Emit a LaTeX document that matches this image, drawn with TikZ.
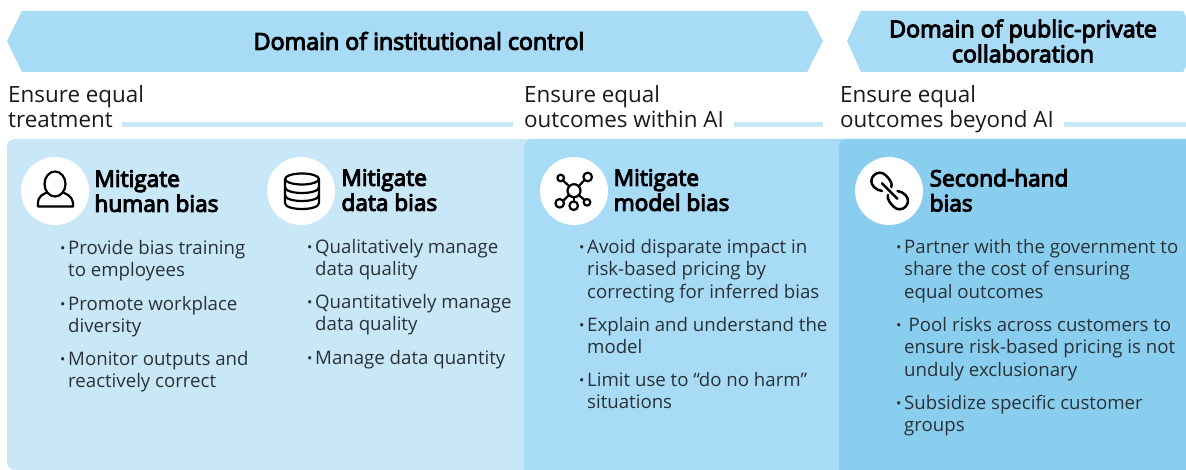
\documentclass[tikz,border=0pt]{standalone}
\usepackage{fontspec}
\setmainfont{Open Sans}
\newfontfamily\headfont[FakeBold=4.5]{Open Sans}
\usetikzlibrary{arrows}
\definecolor{palesky}{HTML}{C9E8F7}
\definecolor{midsky}{HTML}{A8DBF5}
\definecolor{deepsky}{HTML}{8ACEEF}
\definecolor{inkblack}{HTML}{1A1A1A}
\definecolor{itemgray}{HTML}{2A3238}
\newcommand{\bul}{\llap{{\headfont\textperiodcentered}\hspace{3pt}}}
\tikzset{
	bannertext/.style={text=black, font=\headfont\fontsize{23.2}{25}\selectfont, align=center},
	goaltext/.style={anchor=north west, inner sep=0pt, text=inkblack, font=\fontsize{22.4}{25}\selectfont, align=left},
	headtext/.style={anchor=north west, inner sep=0pt, text=black, font=\headfont\fontsize{22.6}{25}\selectfont, align=left},
	itemtext/.style={anchor=north west, inner sep=0pt, text=itemgray, font=\fontsize{18.65}{22.5}\selectfont, align=left},
	badge/.style={circle, fill=white, minimum size=68pt, inner sep=0pt},
	iconline/.style={line width=2.2pt, draw=black, line cap=round, line join=round}
}
\begin{document}
\begin{tikzpicture}[x=1pt, y=-1pt]
	\useasboundingbox (0,0) rectangle (1186,470);
	% banners
	\fill[midsky] (7,41) -- (22,11) -- (807,11) -- (823,41) -- (807,72) -- (22,72) -- cycle;
	\fill[midsky] (847,41) -- (861,11) -- (1183,11) -- (1186,17) -- (1186,66) -- (1183,72) -- (861,72) -- cycle;
	\node[bannertext] (control) at (419,41) {Domain of institutional control};
	\node[bannertext] (collab) at (1023,41) {Domain of public-private\\collaboration};
	% goals and rules
	\node[goaltext] (goalone) at (8,85) {Ensure equal\\treatment};
	\node[goaltext] (goaltwo) at (524,85) {Ensure equal\\outcomes within AI};
	\node[goaltext] (goalthree) at (840,85) {Ensure equal\\outcomes beyond AI};
	\fill[palesky] (122,122.5) rectangle (513,127.5);
	\fill[palesky] (734,122.5) rectangle (823,127.5);
	\fill[palesky] (1064,122.5) rectangle (1186,127.5);
	% panels
	\fill[palesky, rounded corners=8pt] (7,470) -- (7,139) -- (540,139) -- (540,470) -- cycle;
	\fill[midsky, rounded corners=8pt] (524,480) -- (524,139) -- (860,139) -- (860,480) -- cycle;
	\fill[deepsky, rounded corners=8pt] (839,480) -- (839,139) -- (1200,139) -- (1200,480) -- cycle;
	% badges
	\node[badge] (human) at (55,191) {};
	\node[badge] (data) at (301,191) {};
	\node[badge] (model) at (574,191) {};
	\node[badge] (second) at (889,191) {};
	% person
	\draw[iconline] (55,184) ellipse (10.5 and 12.5);
	\draw[iconline] (46,193) .. controls (38,196) and (37.5,201) .. (38,206.5) -- (73,206.5) .. controls (73.5,201) and (72,196) .. (64,193);
	% database
	\draw[iconline] (302,179) ellipse (17 and 5.5);
	\draw[iconline] (285,179) -- (285,203) .. controls (285,211) and (319,211) .. (319,203) -- (319,179);
	\draw[iconline] (285,187) .. controls (285,195) and (319,195) .. (319,187);
	\draw[iconline] (285,195) .. controls (285,203) and (319,203) .. (319,195);
	% network
	\draw[iconline] (574,190.7) circle (6.5);
	\draw[iconline] (560.7,178) circle (3.3);
	\draw[iconline] (587.7,177) circle (4.3);
	\draw[iconline] (559.7,203.3) circle (4.3);
	\draw[iconline] (573.7,205.7) circle (4.3);
	\draw[iconline] (587,202.3) circle (3.3);
	\draw[iconline] (563,180.5) -- (569.5,186.5);
	\draw[iconline] (584.5,180) -- (578.5,186.5);
	\draw[iconline] (563,201) -- (569,195);
	\draw[iconline] (573.8,197.5) -- (573.8,201.2);
	\draw[iconline] (584.5,200) -- (578.8,195);
	% chain
	\begin{scope}[shift={(889.7,191)}, rotate=-45]
		\draw[iconline, line width=2.5pt] (-5.5,5.5) .. controls (-8,7.5) and (-11,8.3) .. (-14,8.3) .. controls (-19,8.3) and (-22.3,4.6) .. (-22.3,0) .. controls (-22.3,-4.6) and (-19,-8.3) .. (-14,-8.3) .. controls (-9,-8.3) and (-4,-8) .. (-1.5,-4);
		\draw[iconline, line width=2.5pt] (5.5,-5.5) .. controls (8,-7.5) and (11,-8.3) .. (14,-8.3) .. controls (19,-8.3) and (22.3,-4.6) .. (22.3,0) .. controls (22.3,4.6) and (19,8.3) .. (14,8.3) .. controls (9,8.3) and (4,8) .. (1.5,4);
		\draw[iconline, line width=2.5pt] (-11,0) -- (11,0);
	\end{scope}
	% headings
	\node[headtext] (humanhead) at (94.3,170) {Mitigate\\human bias};
	\node[headtext] (datahead) at (341.3,169) {Mitigate\\data bias};
	\node[headtext] (modelhead) at (613.5,169) {Mitigate\\model bias};
	\node[headtext] (secondhead) at (929.5,169) {Second-hand\\bias};
	% human items
	\node[itemtext] (humanone) at (68,240) {\bul Provide bias training\\to employees};
	\node[itemtext] (humantwo) at (68,296) {\bul Promote workplace\\diversity};
	\node[itemtext] (humanthree) at (68,351) {\bul Monitor outputs and\\reactively correct};
	% data items
	\node[itemtext] (dataone) at (315,239) {\bul Qualitatively manage\\data quality};
	\node[itemtext] (datatwo) at (315,294) {\bul Quantitatively manage\\data quality};
	\node[itemtext] (datathree) at (315,350) {\bul Manage data quantity};
	% model items
	\node[itemtext] (modelone) at (587,239) {\bul Avoid disparate impact in\\risk-based pricing by\\correcting for inferred bias};
	\node[itemtext] (modeltwo) at (587,317) {\bul Explain and understand the\\model};
	\node[itemtext] (modelthree) at (587,372) {\bul Limit use to “do no harm”\\situations};
	% second-hand items
	\node[itemtext] (secondone) at (904,239) {\bul Partner with the government to\\share the cost of ensuring\\equal outcomes};
	\node[itemtext] (secondtwo) at (904,317) {\bul\hspace{4.5pt}Pool risks across customers to\\ensure risk-based pricing is not\\unduly exclusionary};
	\node[itemtext] (secondthree) at (904,395) {\bul Subsidize specific customer\\groups};
\end{tikzpicture}
\end{document}
